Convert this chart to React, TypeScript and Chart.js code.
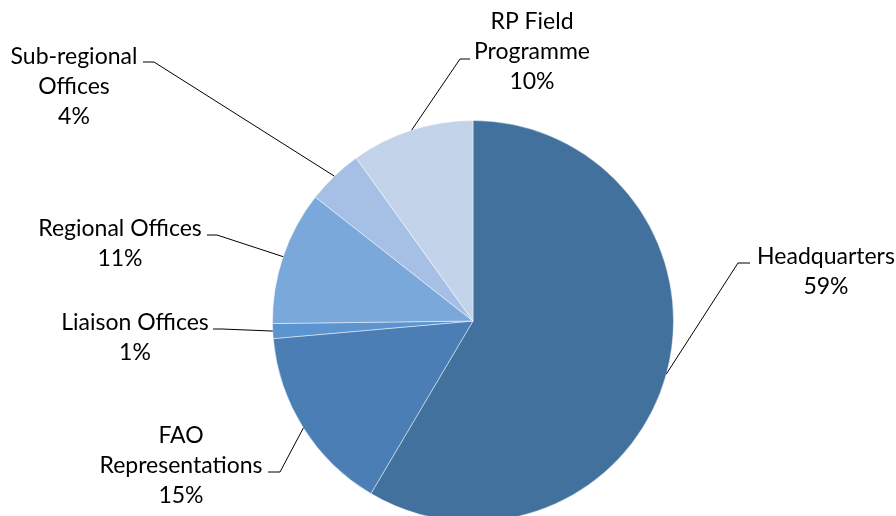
import React, { useEffect, useRef } from "react";
import { Chart, registerables } from "chart.js";

Chart.register(...registerables);

const categories = [
  "Headquarters",
  "FAO Representations",
  "Liaison Offices",
  "Regional Offices",
  "Sub-regional Offices",
  "RP Field Programme",
];
const values = [58.5, 15.1, 1.2, 10.8, 4.5, 9.9];
const percentLabels = ["59%", "15%", "1%", "11%", "4%", "10%"];
const labelLines = [
  ["Headquarters"],
  ["FAO", "Representations"],
  ["Liaison Offices"],
  ["Regional Offices"],
  ["Sub-regional", "Offices"],
  ["RP Field", "Programme"],
];
const colors = ["#41719C", "#4A7EB4", "#5B94CF", "#7BA8DA", "#A5C0E4", "#C3D3EA"];

// label placement (text centre x, first-line y, elbow and end of the leader line)
const labelPos = [
  { cx: 826, y: 257, ex: 738, ey: 263, hx: 750 },
  { cx: 181, y: 436, ex: 280, ey: 472, hx: 268 },
  { cx: 135, y: 323, ex: 222, ey: 329, hx: 213 },
  { cx: 120, y: 229, ex: 217, ey: 235, hx: 207 },
  { cx: 74, y: 57, ex: 154, ey: 62, hx: 143 },
  { cx: 532, y: 22, ex: 460, ey: 59, hx: 470 },
];
const LINE_H = 30;
const FONT = "23px Lato";

const labelPlugin = {
  id: "pieLabels",
  afterDatasetsDraw(chart: any) {
    const ctx = chart.ctx;
    const meta = chart.getDatasetMeta(0);
    ctx.save();
    meta.data.forEach((arc: any, i: number) => {
      const p = arc.getProps(["x", "y", "startAngle", "endAngle", "outerRadius"], true);
      const mid = (p.startAngle + p.endAngle) / 2;
      const ax = p.x + Math.cos(mid) * p.outerRadius;
      const ay = p.y + Math.sin(mid) * p.outerRadius;
      const lp = labelPos[i];
      ctx.strokeStyle = "#000";
      ctx.lineWidth = 1;
      ctx.beginPath();
      ctx.moveTo(ax, ay);
      ctx.lineTo(lp.ex, lp.ey);
      ctx.lineTo(lp.hx, lp.ey);
      ctx.stroke();
      ctx.fillStyle = "#000";
      ctx.font = FONT;
      ctx.textAlign = "center";
      ctx.textBaseline = "middle";
      const lines = [...labelLines[i], percentLabels[i]];
      lines.forEach((t, j) => ctx.fillText(t, lp.cx, lp.y + j * LINE_H));
    });
    ctx.restore();
  },
};

export default function App() {
  const ref = useRef<HTMLCanvasElement | null>(null);
  useEffect(() => {
    document.body.style.margin = "0";
    const chart = new Chart(ref.current as HTMLCanvasElement, {
      type: "pie",
      data: {
        labels: categories,
        datasets: [
          {
            data: values,
            backgroundColor: colors,
            borderColor: "rgba(255,255,255,0.45)",
            borderWidth: 1,
          },
        ],
      },
      options: {
        responsive: false,
        animation: false,
        layout: { padding: { left: 272, right: 222, top: 120, bottom: 120 } },
        plugins: { legend: { display: false }, tooltip: { enabled: false } },
      },
      plugins: [labelPlugin],
    });
    return () => chart.destroy();
  }, []);
  return (
    <div style={{ width: 896, height: 516, overflow: "hidden", background: "#fff" }}>
      <canvas ref={ref} width={896} height={642} style={{ width: 896, height: 642, display: "block" }} />
    </div>
  );
}
